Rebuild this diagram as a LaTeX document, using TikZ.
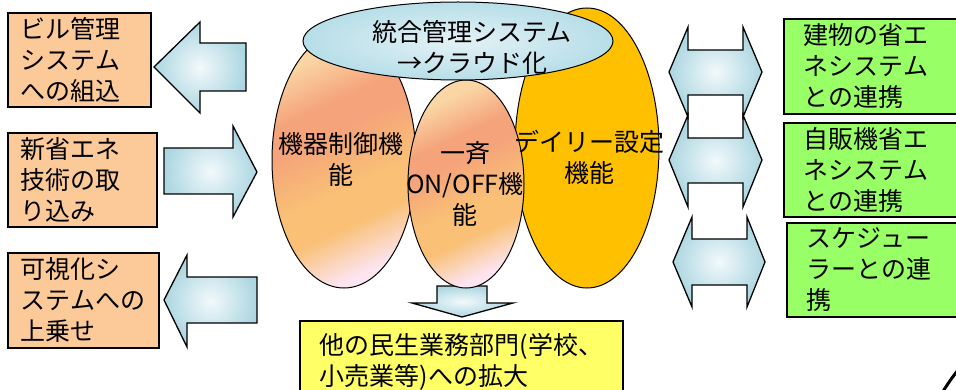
\documentclass[tikz,border=0pt]{standalone}
\usepackage{fontspec}
\newfontfamily\cjk{Noto Sans CJK JP}
\usetikzlibrary{shapes.geometric}
\definecolor{peach}{RGB}{252,202,152}
\definecolor{lgreen}{RGB}{153,255,102}
\definecolor{lyellow}{RGB}{255,255,102}
\definecolor{gold}{RGB}{255,192,0}
\definecolor{abl}{RGB}{172,214,225}
\definecolor{abin}{RGB}{242,249,251}
\definecolor{tbl}{RGB}{183,222,232}
\definecolor{tbin}{RGB}{228,242,246}
\definecolor{peachtop}{RGB}{250,214,165}
\definecolor{salm}{RGB}{245,163,122}
\definecolor{orb}{RGB}{249,192,118}
\definecolor{pinkb}{RGB}{252,228,240}
\pgfdeclareverticalshading{peachy}{100bp}{color(0bp)=(pinkb); color(25bp)=(pinkb); color(36bp)=(orb); color(44bp)=(orb); color(57bp)=(salm); color(63bp)=(salm); color(74bp)=(peachtop); color(100bp)=(peachtop)}
\tikzset{
  jp/.style={font=\cjk\fontsize{25}{31}\selectfont},
  box/.style={jp, draw, line width=1.6pt, align=left, inner ysep=0pt, anchor=north west},
  lbox/.style={box, fill=peach, inner xsep=13pt},
  gbox/.style={box, fill=lgreen, inner xsep=20pt, minimum width=190, text width=150},
  fatarrow/.style={draw, line width=1.3pt, line join=miter, inner color=abin, outer color=abl},
  oval/.style={ellipse, draw, line width=1pt, inner sep=0pt},
  peachfill/.style={shading=peachy, shading angle=25},
  otext/.style={jp, align=center, inner sep=0pt}
}
\begin{document}
\begin{tikzpicture}[x=1pt,y=-1pt]
\useasboundingbox (0,0) rectangle (956,390);
\clip (0,0) rectangle (956,390);
\fill[white] (0,0) rectangle (956,390);

% left boxes
\node[lbox, minimum width=143, text width=117, minimum height=94] (b1) at (7,12) {ビル管理\\システム\\への組込};
\node[lbox, minimum width=149, text width=123, minimum height=94] (b2) at (7,132) {新省エネ\\技術の取\\り込み};
\node[lbox, minimum width=151, text width=125, minimum height=95] (b3) at (7,252) {可視化シ\\ステムへの\\上乗せ};

% left fat arrows
\path[fatarrow] (154,67) -- (200,22) -- (200,43) -- (246,43) -- (246,91) -- (200,91) -- (200,113) -- cycle;
\path[fatarrow] (164,148) -- (233,148) -- (233,126) -- (257,172) -- (233,217) -- (233,194) -- (164,194) -- cycle;
\path[fatarrow] (164,300) -- (187,255) -- (187,277) -- (257,277) -- (257,323) -- (187,323) -- (187,347) -- cycle;

% down arrow
\path[fatarrow] (437,286) -- (487,286) -- (487,303) -- (513,303) -- (462,317) -- (412,303) -- (437,303) -- cycle;

% ellipses
\node[oval, fill=gold, minimum width=144, minimum height=280] (daily) at (587,148) {};
\node[oval, peachfill, minimum width=144, minimum height=256] (ctrl) at (344,160) {};
\node[oval, peachfill, minimum width=116, minimum height=208] (onoff) at (466,184) {};
\node[oval, inner color=tbin, outer color=tbl, minimum width=310, minimum height=78] (cloud) at (458,41) {};

\node[otext] (ctrltxt) at (341,159) {機器制御機\\能};
\node[otext] (onofftxt) at (465,184) {一斉\\ON/OFF機\\能};
\node[otext] (dailytxt) at (589,157) {デイリー設定\\機能};
\node[otext] (cloudtxt) at (472,47) {統合管理システム\\→クラウド化};

% yellow box
\node[box, fill=lyellow, inner xsep=20pt, minimum width=323, text width=283, minimum height=82] (expand) at (299,320) {他の民生業務部門(学校、\\小売業等)への拡大};

% right double arrows
\path[fatarrow] (669,72) -- (688,27) -- (688,50) -- (743,50) -- (743,27) -- (762,72) -- (743,117) -- (743,95) -- (688,95) -- (688,117) -- cycle;
\path[fatarrow] (669,160) -- (688,115) -- (688,138) -- (743,138) -- (743,115) -- (762,160) -- (743,207) -- (743,183) -- (688,183) -- (688,207) -- cycle;
\path[fatarrow] (673,262) -- (692,217) -- (692,239) -- (747,239) -- (747,217) -- (765,262) -- (747,307) -- (747,285) -- (692,285) -- (692,307) -- cycle;

% right boxes
\node[gbox, minimum height=95] (g1) at (783,18) {建物の省エ\\ネシステム\\との連携};
\node[gbox, minimum height=94] (g2) at (783,122) {自販機省エ\\ネシステム\\との連携};
\node[gbox, minimum height=94] (g3) at (786,222) {スケジュー\\ラーとの連\\携};

% fragment bottom right
\draw[line width=3pt] (942,393) to[bend left=3] (958,370);
\end{tikzpicture}
\end{document}
